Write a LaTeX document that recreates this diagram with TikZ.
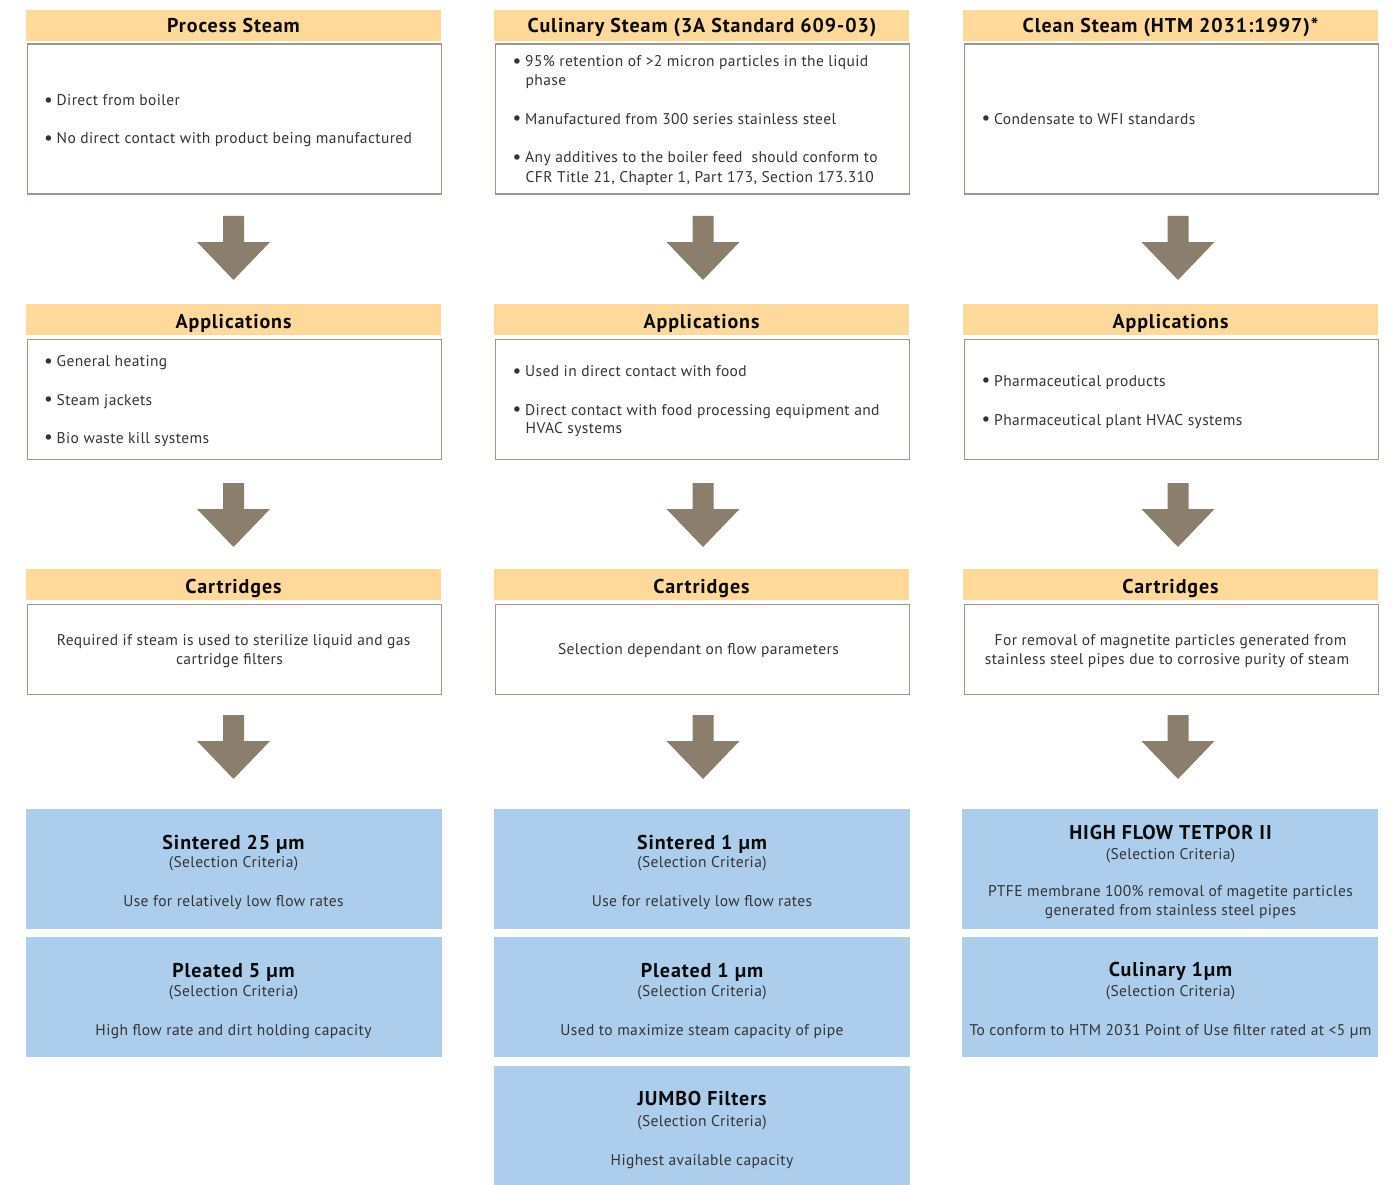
\documentclass[tikz,border=0pt]{standalone}
\usepackage{fontspec}
\setmainfont{PT Sans}
\newfontfamily\bodyf[LetterSpace=2.5]{PT Sans}
\newfontfamily\titlef[LetterSpace=4.5]{PT Sans}
\definecolor{hdryellow}{RGB}{254,217,153}
\definecolor{bluebox}{RGB}{172,205,236}
\definecolor{arrowc}{RGB}{139,126,109}
\definecolor{boxline}{RGB}{160,150,138}
\definecolor{bodytext}{RGB}{52,52,52}
\definecolor{titletext}{RGB}{10,10,10}
\begin{document}
\begin{tikzpicture}[x=1pt,y=-1pt,
  hdr/.style={fill=hdryellow,draw=none,minimum width=415,minimum height=31,inner sep=0,anchor=north west},
  wbox/.style={fill=white,draw=boxline,line width=1.3pt,minimum width=414,inner sep=0,anchor=north west},
  bbox/.style={fill=bluebox,draw=none,minimum width=416,inner sep=0,anchor=north west},
  ttl/.style={inner sep=0,anchor=base,text=titletext,font=\titlef\fontsize{20}{24}\selectfont\bfseries},
  btl/.style={inner sep=0,anchor=base,text=titletext,font=\titlef\fontsize{20}{24}\selectfont\bfseries},
  sel/.style={inner sep=0,anchor=base,text=bodytext,font=\bodyf\fontsize{15.5}{18}\selectfont},
  itm/.style={inner sep=0,anchor=base west,text=bodytext,font=\bodyf\fontsize{15.5}{18}\selectfont},
  ctr/.style={inner sep=0,anchor=base,text=bodytext,font=\bodyf\fontsize{15.5}{18}\selectfont},
  blk/.style={fill=arrowc,draw=none}
]
\useasboundingbox (0,0) rectangle (1392,1185);
\fill[white] (0,0) rectangle (1392,1185);
\newcommand\bul{\makebox[12.5pt][l]{\raisebox{-0.5pt}{\scalebox{1.25}{\textbullet}}}}

% ================= Column 1 =================
\node[hdr] (h1) at (26,9.5) {};
\node[ttl] (t1) at (233.5,32.7) {Process Steam};
\node[wbox,minimum height=150] (b1) at (26.5,43.5) {};
\node[itm] (i11) at (44,106) {\bul Direct from boiler};
\node[itm] (i12) at (44,144) {\bul No direct contact with product being manufactured};
\coordinate (a1) at (233.5,216);
\fill[blk] (a1) ++(-10.5,0) -- ++(21,0) -- ++(0,26) -- ++(26,0) -- ++(-36.5,38) -- ++(-36.5,-38) -- ++(26,0) -- cycle;

\node[hdr] (h1a) at (26,304) {};
\node[ttl] (t1a) at (233.5,328.3) {Applications};
\node[wbox,minimum height=120] (b1a) at (26.5,338.5) {};
\node[itm] (i1a1) at (44,366.7) {\bul General heating};
\node[itm] (i1a2) at (44,405) {\bul Steam jackets};
\node[itm] (i1a3) at (44,443.3) {\bul Bio waste kill systems};
\coordinate (a1a) at (233.5,483);
\fill[blk] (a1a) ++(-10.5,0) -- ++(21,0) -- ++(0,26) -- ++(26,0) -- ++(-36.5,38) -- ++(-36.5,-38) -- ++(26,0) -- cycle;

\node[hdr] (h1c) at (26,569) {};
\node[ttl] (t1c) at (233.5,593.3) {Cartridges};
\node[wbox,minimum height=90] (b1c) at (26.5,603.5) {};
\node[ctr] (c11) at (233.7,645.7) {Required if steam is used to sterilize liquid and gas};
\node[ctr] (c12) at (229.5,664.3) {cartridge filters};
\coordinate (a1c) at (233.5,715);
\fill[blk] (a1c) ++(-10.5,0) -- ++(21,0) -- ++(0,26) -- ++(26,0) -- ++(-36.5,38) -- ++(-36.5,-38) -- ++(26,0) -- cycle;

\node[bbox,minimum height=120] (f11) at (26,809) {};
\node[btl] (f11t) at (233.5,849) {Sintered 25 µm};
\node[sel] (f11s) at (233.5,867.7) {(Selection Criteria)};
\node[ctr] (f11d) at (233.5,906.7) {Use for relatively low flow rates};
\node[bbox,minimum height=120] (f12) at (26,937) {};
\node[btl] (f12t) at (233.5,977.7) {Pleated 5 µm};
\node[sel] (f12s) at (233.5,996.7) {(Selection Criteria)};
\node[ctr] (f12d) at (233.5,1035) {High flow rate and dirt holding capacity};

% ================= Column 2 =================
\node[hdr] (h2) at (494,9.5) {};
\node[ttl] (t2) at (702,32.7) {Culinary Steam (3A Standard 609-03)};
\node[wbox,minimum height=150] (b2) at (494.5,43.5) {};
\node[itm] (i21) at (512.5,66.7) {\bul 95\% retention of >2 micron particles in the liquid};
\node[itm] (i21b) at (525.5,86) {phase};
\node[itm] (i22) at (512.5,124.3) {\bul Manufactured from 300 series stainless steel};
\node[itm] (i23) at (512.5,162.7) {\bul Any additives to the boiler feed\ \ should conform to};
\node[itm] (i23b) at (525.5,182.7) {CFR Title 21, Chapter 1, Part 173, Section 173.310};
\coordinate (a2) at (703,216);
\fill[blk] (a2) ++(-10.5,0) -- ++(21,0) -- ++(0,26) -- ++(26,0) -- ++(-36.5,38) -- ++(-36.5,-38) -- ++(26,0) -- cycle;

\node[hdr] (h2a) at (494,304) {};
\node[ttl] (t2a) at (701.5,328.3) {Applications};
\node[wbox,minimum height=120] (b2a) at (494.5,338.5) {};
\node[itm] (i2a1) at (512.5,376.7) {\bul Used in direct contact with food};
\node[itm] (i2a2) at (512.5,415) {\bul Direct contact with food processing equipment and};
\node[itm] (i2a2b) at (525.5,433.3) {HVAC systems};
\coordinate (a2a) at (703,483);
\fill[blk] (a2a) ++(-10.5,0) -- ++(21,0) -- ++(0,26) -- ++(26,0) -- ++(-36.5,38) -- ++(-36.5,-38) -- ++(26,0) -- cycle;

\node[hdr] (h2c) at (494,569) {};
\node[ttl] (t2c) at (701.5,593.3) {Cartridges};
\node[wbox,minimum height=90] (b2c) at (494.5,603.5) {};
\node[ctr] (c21) at (698.5,654.5) {Selection dependant on flow parameters};
\coordinate (a2c) at (703,715);
\fill[blk] (a2c) ++(-10.5,0) -- ++(21,0) -- ++(0,26) -- ++(26,0) -- ++(-36.5,38) -- ++(-36.5,-38) -- ++(26,0) -- cycle;

\node[bbox,minimum height=120] (f21) at (494,809) {};
\node[btl] (f21t) at (702,849) {Sintered 1 µm};
\node[sel] (f21s) at (702,867.7) {(Selection Criteria)};
\node[ctr] (f21d) at (702,906.7) {Use for relatively low flow rates};
\node[bbox,minimum height=120] (f22) at (494,937) {};
\node[btl] (f22t) at (702,977.7) {Pleated 1 µm};
\node[sel] (f22s) at (702,996.7) {(Selection Criteria)};
\node[ctr] (f22d) at (702,1035) {Used to maximize steam capacity of pipe};
\node[bbox,minimum height=119] (f23) at (494,1066) {};
\node[btl] (f23t) at (702,1105) {JUMBO Filters};
\node[sel] (f23s) at (702,1126) {(Selection Criteria)};
\node[ctr] (f23d) at (702,1165) {Highest available capacity};

% ================= Column 3 =================
\node[hdr] (h3) at (963,9.5) {};
\node[ttl] (t3) at (1170.5,32.7) {Clean Steam (HTM 2031:1997)*};
\node[wbox,minimum height=150] (b3) at (963.5,43.5) {};
\node[itm] (i31) at (981.5,124.3) {\bul Condensate to WFI standards};
\coordinate (a3) at (1178,216);
\fill[blk] (a3) ++(-10.5,0) -- ++(21,0) -- ++(0,26) -- ++(26,0) -- ++(-36.5,38) -- ++(-36.5,-38) -- ++(26,0) -- cycle;

\node[hdr] (h3a) at (963,304) {};
\node[ttl] (t3a) at (1170.5,328.3) {Applications};
\node[wbox,minimum height=120] (b3a) at (963.5,338.5) {};
\node[itm] (i3a1) at (981.5,386) {\bul Pharmaceutical products};
\node[itm] (i3a2) at (981.5,425) {\bul Pharmaceutical plant HVAC systems};
\coordinate (a3a) at (1178,483);
\fill[blk] (a3a) ++(-10.5,0) -- ++(21,0) -- ++(0,26) -- ++(26,0) -- ++(-36.5,38) -- ++(-36.5,-38) -- ++(26,0) -- cycle;

\node[hdr] (h3c) at (963,569) {};
\node[ttl] (t3c) at (1170.5,593.3) {Cartridges};
\node[wbox,minimum height=90] (b3c) at (963.5,603.5) {};
\node[ctr] (c31) at (1170.5,645.7) {For removal of magnetite particles generated from};
\node[ctr] (c32) at (1167,664.3) {stainless steel pipes due to corrosive purity of steam};
\coordinate (a3c) at (1178,715);
\fill[blk] (a3c) ++(-10.5,0) -- ++(21,0) -- ++(0,26) -- ++(26,0) -- ++(-36.5,38) -- ++(-36.5,-38) -- ++(26,0) -- cycle;

\node[bbox,minimum height=120] (f31) at (962,809) {};
\node[btl] (f31t) at (1170.5,839.3) {HIGH FLOW TETPOR II};
\node[sel] (f31s) at (1170.5,859) {(Selection Criteria)};
\node[ctr] (f31d) at (1170.5,896.7) {PTFE membrane 100\% removal of magetite particles};
\node[ctr] (f31e) at (1170.5,915) {generated from stainless steel pipes};
\node[bbox,minimum height=120] (f32) at (962,937) {};
\node[btl] (f32t) at (1170.5,976.7) {Culinary 1µm};
\node[sel] (f32s) at (1170.5,996.7) {(Selection Criteria)};
\node[ctr] (f32d) at (1170.5,1035) {To conform to HTM 2031 Point of Use filter rated at <5 µm};
\end{tikzpicture}
\end{document}
